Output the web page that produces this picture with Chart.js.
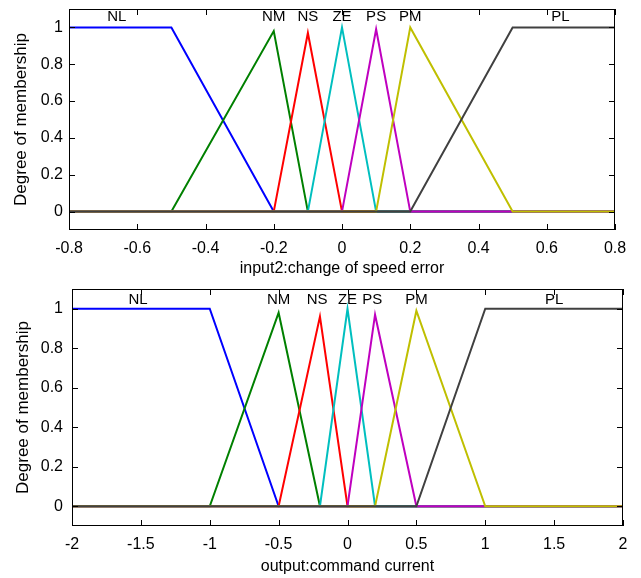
<!DOCTYPE html>
<html>
<head>
<meta charset="utf-8">
<script src="https://cdn.jsdelivr.net/npm/chart.js@4.4.0/dist/chart.umd.min.js"></script>
<style>
    body { margin: 0; background: #fff; }
    #wrap { position: relative; width: 641px; height: 578px; }
    #inputChart { position: absolute; left: 0; top: 0; }
    #outputChart { position: absolute; left: 0; top: 280px; }
</style>
</head>
<body>
<div id="wrap">
    <canvas id="inputChart" width="641" height="280"></canvas>
    <canvas id="outputChart" width="641" height="298"></canvas>
</div>
<script>
// Membership function names and line colours (same for both plots)
const mfNames = ['NL', 'NM', 'NS', 'ZE', 'PS', 'PM', 'PL'];
const mfColors = ['#0000ff', '#008000', '#ff0000', '#00bfbf', '#bf00bf', '#bfbf00', '#404040'];

// input2: change of speed error -- breakpoints [x, degree]
const inputNL = [[-0.8, 1], [-0.5, 1], [-0.2, 0], [0.8, 0]];
const inputNM = [[-0.8, 0], [-0.5, 0], [-0.2, 0.98], [-0.1, 0], [0.8, 0]];
const inputNS = [[-0.8, 0], [-0.2, 0], [-0.1, 0.97], [0, 0], [0.8, 0]];
const inputZE = [[-0.8, 0], [-0.1, 0], [0, 1], [0.1, 0], [0.8, 0]];
const inputPS = [[-0.8, 0], [0, 0], [0.1, 0.99], [0.2, 0], [0.8, 0]];
const inputPM = [[-0.8, 0], [0.1, 0], [0.2, 1], [0.5, 0], [0.8, 0]];
const inputPL = [[-0.8, 0], [0.2, 0], [0.5, 1], [0.8, 1]];
const inputTicks = [-0.8, -0.6, -0.4, -0.2, 0, 0.2, 0.4, 0.6, 0.8];
const inputLabelX = [-0.66, -0.2, -0.1, 0, 0.1, 0.2, 0.64];

// output: command current
const outputNL = [[-2, 1], [-1, 1], [-0.5, 0], [2, 0]];
const outputNM = [[-2, 0], [-1, 0], [-0.5, 0.98], [-0.2, 0], [2, 0]];
const outputNS = [[-2, 0], [-0.5, 0], [-0.2, 0.96], [0, 0], [2, 0]];
const outputZE = [[-2, 0], [-0.2, 0], [0, 1], [0.2, 0], [2, 0]];
const outputPS = [[-2, 0], [0, 0], [0.2, 0.97], [0.5, 0], [2, 0]];
const outputPM = [[-2, 0], [0.2, 0], [0.5, 0.99], [1, 0], [2, 0]];
const outputPL = [[-2, 0], [0.5, 0], [1, 1], [2, 1]];
const outputTicks = [-2, -1.5, -1, -0.5, 0, 0.5, 1, 1.5, 2];
const outputLabelX = [-1.52, -0.5, -0.22, 0, 0.18, 0.5, 1.5];

const yTicks = [0, 0.2, 0.4, 0.6, 0.8, 1];

const FONT = '"Liberation Sans", Arial, sans-serif';

// box, inward ticks on all sides and MF names inside the axes
function makeFramePlugin(labelX, labelY) {
    return {
        id: 'frame',
        afterDatasetsDraw(chart) {
            const { ctx, chartArea: a, scales: { x, y } } = chart;
            const len = 6;
            ctx.save();
            ctx.strokeStyle = '#000';
            ctx.lineWidth = 1;
            ctx.strokeRect(a.left + 0.5, a.top + 0.5, a.right - a.left - 1, a.bottom - a.top - 1);
            ctx.beginPath();
            x.ticks.forEach(t => {
                const px = Math.round(x.getPixelForValue(t.value)) + 0.5;
                ctx.moveTo(px, a.bottom); ctx.lineTo(px, a.bottom - len);
                ctx.moveTo(px, a.top); ctx.lineTo(px, a.top + len);
            });
            y.ticks.forEach(t => {
                const py = Math.round(y.getPixelForValue(t.value)) + 0.5;
                ctx.moveTo(a.left, py); ctx.lineTo(a.left + len, py);
                ctx.moveTo(a.right, py); ctx.lineTo(a.right - len, py);
            });
            ctx.stroke();

            ctx.fillStyle = '#000';
            ctx.font = '15px ' + FONT;
            ctx.textAlign = 'center';
            ctx.textBaseline = 'middle';
            mfNames.forEach((name, i) => {
                ctx.fillText(name, x.getPixelForValue(labelX[i]), y.getPixelForValue(labelY));
            });
            ctx.restore();
        }
    };
}

function buildChart(canvasId, mfs, xTicks, labelX, labelY, xTitle, box) {
    const ctx = document.getElementById(canvasId).getContext('2d');
    const datasets = mfs.map((pts, i) => ({
        label: mfNames[i],
        data: pts.map(p => ({ x: p[0], y: p[1] })),
        borderColor: mfColors[i],
        borderWidth: 2,
        showLine: true,
        pointRadius: 0,
        tension: 0,
        order: mfs.length - 1 - i
    }));

    return new Chart(ctx, {
        type: 'scatter',
        data: { datasets },
        options: {
            responsive: false,
            animation: false,
            devicePixelRatio: 1,
            layout: { padding: { left: 0, right: box.right, top: box.top, bottom: 0 } },
            plugins: { legend: { display: false }, tooltip: { enabled: false } },
            scales: {
                x: {
                    type: 'linear',
                    min: xTicks[0],
                    max: xTicks[xTicks.length - 1],
                    grid: { display: false, drawTicks: false },
                    border: { display: false },
                    afterBuildTicks: scale => { scale.ticks = xTicks.map(v => ({ value: v })); },
                    afterFit: scale => {
                        scale.height = box.xAxisHeight;
                        scale.paddingLeft = 0;
                        scale.paddingRight = 0;
                    },
                    ticks: {
                        color: '#000',
                        padding: 9,
                        maxRotation: 0,
                        autoSkip: false,
                        font: { family: FONT, size: 16 },
                        callback: value => String(value)
                    },
                    title: {
                        display: true,
                        text: xTitle,
                        color: '#000',
                        font: { family: FONT, size: 16 },
                        padding: { top: 0, bottom: 2 }
                    }
                },
                y: {
                    type: 'linear',
                    min: -0.1,
                    max: 1.1,
                    grid: { display: false, drawTicks: false },
                    border: { display: false },
                    afterBuildTicks: scale => { scale.ticks = yTicks.map(v => ({ value: v })); },
                    afterFit: scale => {
                        scale.width = box.yAxisWidth;
                        scale.paddingTop = 0;
                        scale.paddingBottom = 0;
                    },
                    ticks: {
                        color: '#000',
                        padding: box.yTickPad,
                        font: { family: FONT, size: 16 },
                        callback: value => String(value)
                    },
                    title: {
                        display: true,
                        text: 'Degree of membership',
                        color: '#000',
                        font: { family: FONT, size: 17 },
                        padding: { top: box.yTitlePad, bottom: 0 }
                    }
                }
            }
        },
        plugins: [makeFramePlugin(labelX, labelY)]
    });
}

buildChart('inputChart',
    [inputNL, inputNM, inputNS, inputZE, inputPS, inputPM, inputPL],
    inputTicks, inputLabelX, 1.055, 'input2:change of speed error',
    { right: 26, top: 9, xAxisHeight: 50, yAxisWidth: 69, yTickPad: 6, yTitlePad: 11 });

buildChart('outputChart',
    [outputNL, outputNM, outputNS, outputZE, outputPS, outputPM, outputPL],
    outputTicks, outputLabelX, 1.045, 'output:command current',
    { right: 18, top: 9, xAxisHeight: 52, yAxisWidth: 72, yTickPad: 9, yTitlePad: 13 });
</script>
</body>
</html>
